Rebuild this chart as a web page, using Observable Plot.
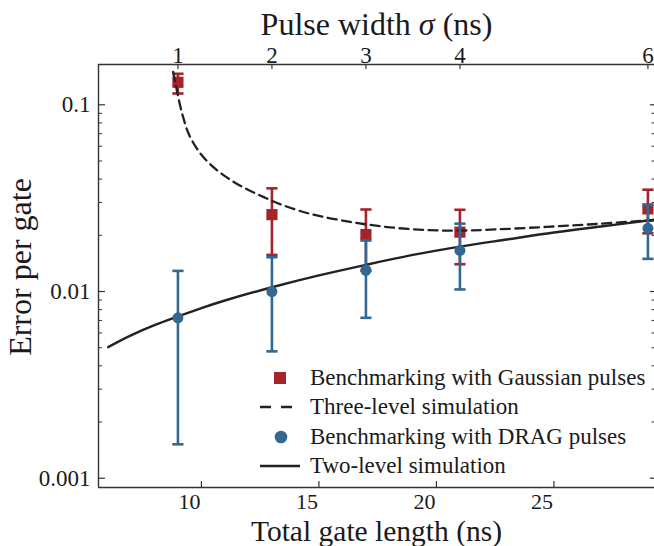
<!DOCTYPE html>
<html>
<head>
<meta charset="utf-8">
<script src="https://cdn.jsdelivr.net/npm/d3@7"></script>
<script src="https://cdn.jsdelivr.net/npm/@observablehq/plot@0.6"></script>
<style>
  html, body { margin: 0; padding: 0; background: #fff; }
  #wrap { position: relative; width: 654px; height: 546px; }
  #legend { position: absolute; left: 0; top: 0; pointer-events: none; }
</style>
</head>
<body>
<div id="wrap"></div>
<script>
// ---- data ----
const gateLength = [9, 13, 17, 21, 29];          // total gate length (ns)
const sigmaTicks = [1, 2, 3, 4, 6];               // pulse width σ (ns), top axis labels
const gaussY  = [0.132, 0.0258, 0.0202, 0.0208, 0.0277];
const gaussLo = [0.1150, 0.0157, 0.0129, 0.0140, 0.0205];
const gaussHi = [0.1466, 0.0357, 0.0275, 0.0274, 0.0351];
const dragY   = [0.00723, 0.0100, 0.0130, 0.0166, 0.0218];
const dragLo  = [0.00152, 0.00478, 0.00723, 0.01026, 0.01496];
const dragHi  = [0.0129, 0.01527, 0.01875, 0.0231, 0.0291];

const threeX = [8.8, 9.0, 9.22, 9.5, 10.0, 10.5, 11.0, 11.5, 12.0, 12.5, 13.0, 13.5, 14.2, 15.0, 16.0, 17.0, 18.3, 19.7, 21.0, 22.5, 24.7, 26.8, 29.0, 29.3];
const threeY = [0.150, 0.112, 0.086, 0.068, 0.054, 0.0465, 0.0415, 0.0378, 0.0350, 0.0327, 0.0306, 0.0289, 0.0270, 0.0254, 0.0240, 0.0229, 0.0219, 0.0213, 0.0212, 0.0215, 0.0222, 0.0230, 0.0240, 0.0241];
const twoX = [6.03, 7, 8, 9, 10, 11, 13, 15, 17, 19, 21, 23, 25, 27, 29, 29.3];
const twoY = [0.00504, 0.00582, 0.00660, 0.00735, 0.00815, 0.00895, 0.01054, 0.0122, 0.0139, 0.0157, 0.0174, 0.0190, 0.0207, 0.0223, 0.0240, 0.0243];

const xBottomTicks = [10, 15, 20, 25];
const yMajorTicks = [0.001, 0.01, 0.1];
const yMinorTicks = [0.002, 0.003, 0.004, 0.005, 0.006, 0.007, 0.008, 0.009,
                     0.02, 0.03, 0.04, 0.05, 0.06, 0.07, 0.08, 0.09];
const xDomain = [5.62, 29.28];
const yDomain = [0.000892, 0.1644];

const legendLabels = ["Benchmarking with Gaussian pulses", "Three-level simulation",
                      "Benchmarking with DRAG pulses", "Two-level simulation"];

// ---- pick an installed serif font ----
function pickFont(cands) {
  const c = document.createElement("canvas").getContext("2d");
  const probe = "Benchmarking with Gaussian 0.001";
  for (const f of cands) {
    c.font = `40px monospace`; const a = c.measureText(probe).width;
    c.font = `40px "${f}", monospace`; const b = c.measureText(probe).width;
    if (Math.abs(a - b) > 0.5) return `"${f}"`;
  }
  return "serif";
}
const FONT = pickFont(["Liberation Serif", "Times New Roman", "DejaVu Serif"]) + ", serif";

// ---- tables ----
const gauss = gateLength.map((x, i) => ({x, y: gaussY[i], lo: gaussLo[i], hi: gaussHi[i]}));
const drag = gateLength.map((x, i) => ({x, y: dragY[i], lo: dragLo[i], hi: dragHi[i]}));
const three = threeX.map((x, i) => ({x, y: threeY[i]}));
const two = twoX.map((x, i) => ({x, y: twoY[i]}));

const RED = "#a3242a", BLUE = "#326891", INK = "#222";
const W = 654, H = 546, mL = 98, mR = 0, mT = 64, mB = 59;
const pw = W - mL - mR, ph = H - mT - mB;

const capSymbol = {draw(ctx, size) { const r = Math.sqrt(size / Math.PI); ctx.moveTo(-r, 0); ctx.lineTo(r, 0); }};

const errMarks = (data, color) => [
  Plot.ruleX(data, {x: "x", y1: "lo", y2: "hi", stroke: color, strokeWidth: 2.6}),
  Plot.dot(data, {x: "x", y: "lo", symbol: capSymbol, r: 5.6, stroke: color, strokeWidth: 2.6, fill: "none"}),
  Plot.dot(data, {x: "x", y: "hi", symbol: capSymbol, r: 5.6, stroke: color, strokeWidth: 2.6, fill: "none"})
];

const chart = Plot.plot({
  width: W, height: H,
  marginLeft: mL, marginRight: mR, marginTop: mT, marginBottom: mB,
  style: {fontFamily: FONT, fontSize: "23px", color: "#1a1a1a", background: "white", overflow: "visible"},
  x: {domain: xDomain},
  y: {type: "log", domain: yDomain},
  marks: [
    // frame (left, top, bottom)
    Plot.ruleX([xDomain[0]], {stroke: "#333", strokeWidth: 1.4}),
    Plot.ruleY([yDomain[0]], {stroke: "#333", strokeWidth: 1.4}),
    Plot.ruleY([yDomain[1]], {stroke: "#333", strokeWidth: 1.4}),
    // inward ticks
    Plot.ruleY(yMajorTicks, {y: d => d, insetRight: pw - 7, stroke: "#333", strokeWidth: 1.2}),
    Plot.ruleY(yMinorTicks, {y: d => d, insetRight: pw - 4, stroke: "#333", strokeWidth: 1}),
    Plot.ruleY(yMajorTicks, {y: d => d, insetLeft: pw - 4, stroke: "#333", strokeWidth: 1.2}),
    Plot.ruleY(yMinorTicks, {y: d => d, insetLeft: pw - 2.5, stroke: "#333", strokeWidth: 1}),
    Plot.ruleX(xBottomTicks, {x: d => d, insetTop: ph - 6, stroke: "#333", strokeWidth: 1.2}),
    Plot.ruleX(gateLength, {x: d => d, insetBottom: ph - 5, stroke: "#333", strokeWidth: 1.2}),
    // tick labels
    Plot.axisX(xBottomTicks, {anchor: "bottom", tickSize: 0, tickPadding: 6, dx: -12, fontSize: 22, label: null}),
    Plot.axisX(gateLength, {anchor: "top", tickSize: 0, tickPadding: 2, fontSize: 23, label: null,
      tickFormat: d => String(sigmaTicks[gateLength.indexOf(d)])}),
    Plot.axisY(yMajorTicks, {anchor: "left", tickSize: 0, tickPadding: 8, fontSize: 23, label: null,
      tickFormat: d => String(d)}),
    // axis titles
    Plot.text(["Total gate length (ns)"], {text: d => d, frameAnchor: "bottom", dy: 44, fontSize: 29.5, lineAnchor: "middle", textAnchor: "middle", fill: "#1a1a1a"}),
    Plot.text(["Pulse width σ (ns)"], {text: d => d, frameAnchor: "top", dy: -40, fontSize: 32, lineAnchor: "middle", textAnchor: "middle", fill: "#1a1a1a"}),
    Plot.text(["Error per gate"], {text: d => d, frameAnchor: "left", dx: -78, dy: -9, rotate: -90, fontSize: 32, lineAnchor: "middle", textAnchor: "middle", fill: "#1a1a1a"}),
    // data
    ...errMarks(gauss, RED),
    Plot.dot(gauss, {x: "x", y: "y", symbol: "square", r: 6.3, fill: RED, stroke: "none"}),
    Plot.line(three, {x: "x", y: "y", stroke: INK, strokeWidth: 2.3, strokeDasharray: "9,5.5", curve: "catmull-rom", clip: true}),
    Plot.line(two, {x: "x", y: "y", stroke: INK, strokeWidth: 2.4, curve: "catmull-rom", clip: true}),
    ...errMarks(drag, BLUE),
    Plot.dot(drag, {x: "x", y: "y", symbol: "circle", r: 5.5, fill: BLUE, stroke: "none"})
  ]
});

// italic sigma in the top title
chart.querySelectorAll("text").forEach(t => {
  if (t.textContent === "Pulse width σ (ns)") {
    t.innerHTML = 'Pulse width <tspan font-style="italic">σ</tspan> (ns)';
  }
});

const wrap = document.getElementById("wrap");
wrap.appendChild(chart);

// legend overlay
const ns = "http://www.w3.org/2000/svg";
const lg = document.createElementNS(ns, "svg");
lg.setAttribute("id", "legend");
lg.setAttribute("width", W); lg.setAttribute("height", H);
const rowsY = [378, 407, 437, 466];
const add = (tag, attrs) => { const e = document.createElementNS(ns, tag); for (const k in attrs) e.setAttribute(k, attrs[k]); lg.appendChild(e); return e; };
add("rect", {x: 274, y: rowsY[0] - 6, width: 12, height: 12, fill: RED});
add("line", {x1: 260, x2: 293, y1: rowsY[1], y2: rowsY[1], stroke: INK, "stroke-width": 2.4, "stroke-dasharray": "11,10"});
add("circle", {cx: 281, cy: rowsY[2], r: 6.3, fill: BLUE});
add("line", {x1: 260, x2: 300, y1: rowsY[3], y2: rowsY[3], stroke: INK, "stroke-width": 2.4});
legendLabels.forEach((s, i) => {
  const t = add("text", {x: 310, y: rowsY[i] + 7, "font-size": 23, fill: "#1a1a1a"});
  t.style.fontFamily = FONT;
  t.textContent = s;
});
wrap.appendChild(lg);
</script>
</body>
</html>
